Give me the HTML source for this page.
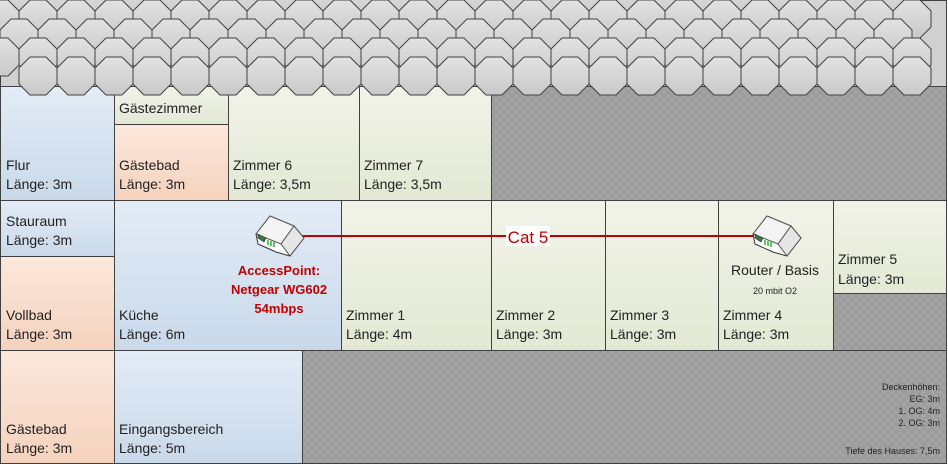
<!DOCTYPE html>
<html><head><meta charset="utf-8"><style>
html,body{margin:0;padding:0;background:#fff}
svg{display:block}
text{font-family:"Liberation Sans",sans-serif}
</style></head><body>
<svg id="s" width="948" height="466" xmlns="http://www.w3.org/2000/svg">
<defs>
<linearGradient id="blue" x1="0" y1="0" x2="0" y2="1"><stop offset="0" stop-color="#e3ecf6"/><stop offset="1" stop-color="#c9d9ea"/></linearGradient>
<linearGradient id="orange" x1="0" y1="0" x2="0" y2="1"><stop offset="0" stop-color="#fbe8dc"/><stop offset="1" stop-color="#f5d2bd"/></linearGradient>
<linearGradient id="green" x1="0" y1="0" x2="0" y2="1"><stop offset="0" stop-color="#f1f3e8"/><stop offset="1" stop-color="#e3e8d4"/></linearGradient>
<linearGradient id="oct" x1="0" y1="0" x2="0" y2="1"><stop offset="0" stop-color="#e2e2e2"/><stop offset="1" stop-color="#c9c9c9"/></linearGradient>
<pattern id="hatch" width="8" height="8" patternUnits="userSpaceOnUse">
<rect width="8" height="8" fill="#a3a3a3"/>
<path d="M0 0L8 8M8 0L0 8" stroke="#989898" stroke-width="1"/>
</pattern>
</defs>
<rect x="0.5" y="0.5" width="946" height="86" fill="#d0d0d0" stroke="#404040"/>
<g id="roof" stroke="#404040" stroke-width="1" fill="url(#oct)"></g>
<g stroke="#404040" stroke-width="1">
<rect x="491.5" y="86.5" width="455" height="114" fill="url(#hatch)"/>
<rect x="833.5" y="293.5" width="113" height="57" fill="url(#hatch)"/>
<rect x="302.5" y="350.5" width="644" height="113" fill="url(#hatch)"/>
<rect x="0.5" y="86.5" width="114" height="114" fill="url(#blue)"/>
<rect x="114.5" y="86.5" width="114" height="38" fill="url(#green)"/>
<rect x="114.5" y="124.5" width="114" height="76" fill="url(#orange)"/>
<rect x="228.5" y="86.5" width="131" height="114" fill="url(#green)"/>
<rect x="359.5" y="86.5" width="132" height="114" fill="url(#green)"/>
<rect x="0.5" y="200.5" width="114" height="56" fill="url(#blue)"/>
<rect x="0.5" y="256.5" width="114" height="94" fill="url(#orange)"/>
<rect x="114.5" y="200.5" width="227" height="150" fill="url(#blue)"/>
<rect x="341.5" y="200.5" width="150" height="150" fill="url(#green)"/>
<rect x="491.5" y="200.5" width="114" height="150" fill="url(#green)"/>
<rect x="605.5" y="200.5" width="113" height="150" fill="url(#green)"/>
<rect x="718.5" y="200.5" width="115" height="150" fill="url(#green)"/>
<rect x="833.5" y="200.5" width="113" height="93" fill="url(#green)"/>
<rect x="0.5" y="350.5" width="114" height="113" fill="url(#orange)"/>
<rect x="114.5" y="350.5" width="188" height="113" fill="url(#blue)"/>
</g>
<g id="roof2" stroke="#404040" stroke-width="1" fill="url(#oct)"></g>
<g font-size="14" fill="#222">
<text x="6" y="170">Flur</text><text x="6" y="189">Länge: 3m</text>
<text x="119" y="113">Gästezimmer</text>
<text x="119" y="170">Gästebad</text><text x="119" y="189">Länge: 3m</text>
<text x="233" y="170">Zimmer 6</text><text x="233" y="189">Länge: 3,5m</text>
<text x="364" y="170">Zimmer 7</text><text x="364" y="189">Länge: 3,5m</text>
<text x="6" y="226">Stauraum</text><text x="6" y="245">Länge: 3m</text>
<text x="6" y="320">Vollbad</text><text x="6" y="339">Länge: 3m</text>
<text x="119" y="320">Küche</text><text x="119" y="339">Länge: 6m</text>
<text x="346" y="320">Zimmer 1</text><text x="346" y="339">Länge: 4m</text>
<text x="496" y="320">Zimmer 2</text><text x="496" y="339">Länge: 3m</text>
<text x="610" y="320">Zimmer 3</text><text x="610" y="339">Länge: 3m</text>
<text x="723" y="320">Zimmer 4</text><text x="723" y="339">Länge: 3m</text>
<text x="838" y="264">Zimmer 5</text><text x="838" y="284">Länge: 3m</text>
<text x="6" y="434">Gästebad</text><text x="6" y="453">Länge: 3m</text>
<text x="119" y="434">Eingangsbereich</text><text x="119" y="453">Länge: 5m</text>
<text x="775" y="275" text-anchor="middle">Router / Basis</text>
</g>
<text x="775" y="294" font-size="9" text-anchor="middle" fill="#222">20 mbit O2</text>
<g font-size="9" fill="#222" text-anchor="end">
<text x="940" y="390">Deckenhöhen:</text>
<text x="940" y="402">EG: 3m</text>
<text x="940" y="414">1. OG: 4m</text>
<text x="940" y="426">2. OG: 3m</text>
<text x="940" y="454">Tiefe des Hauses: 7,5m</text>
</g>
<line x1="300" y1="236" x2="755" y2="236" stroke="#c00000" stroke-width="2"/>
<rect x="506" y="226" width="44" height="20" fill="#fff"/>
<text x="528" y="243" font-size="17" fill="#c00000" text-anchor="middle">Cat 5</text>
<g font-size="13" font-weight="bold" fill="#c00000" text-anchor="middle">
<text x="279" y="275">AccessPoint:</text>
<text x="279" y="294">Netgear WG602</text>
<text x="279" y="313">54mbps</text>
</g>
<g id="dev1" transform="translate(254,214)">
<polygon points="2,20 16,2 40,12 50,24 36,42 22,38 4,30" fill="#fff" stroke="#333"/>
<polygon points="2,20 16,2 40,12 27,30" fill="#f4f4f4" stroke="#555"/>
<polygon points="27,30 40,12 50,24 36,42" fill="#e6e6e6" stroke="#555"/>
<polygon points="4,20 12,24 10,28 4,24" fill="#3a7a3a" stroke="#333" stroke-width="0.6"/>
<path d="M14,26v5M17,27v5M20,28v5" stroke="#2bb32b" stroke-width="1.5"/>
</g>
<use href="#dev1" transform="translate(497,0)"/>
<script>
var NS="http://www.w3.org/2000/svg";
function oct(g,x,y){var w=38,c=11;var p=document.createElementNS(NS,"polygon");
p.setAttribute("points",[[x+c,y],[x+w-c,y],[x+w,y+c],[x+w,y+w-c],[x+w-c,y+w],[x+c,y+w],[x,y+w-c],[x,y+c]].map(function(a){return a.join(",")}).join(" "));g.appendChild(p);}
var g=document.getElementById("roof"),g2=document.getElementById("roof2");
var rows=[[-19,0],[0,19],[19,0],[38,19]];
rows.forEach(function(r){for(var x=r[1]-38;x<930;x+=38){if(x+38>946)continue;oct(g,x,r[0]);}});
for(var x=19;x+38<=946;x+=38)oct(g2,x,57);
</script>
</svg>
</body></html>
